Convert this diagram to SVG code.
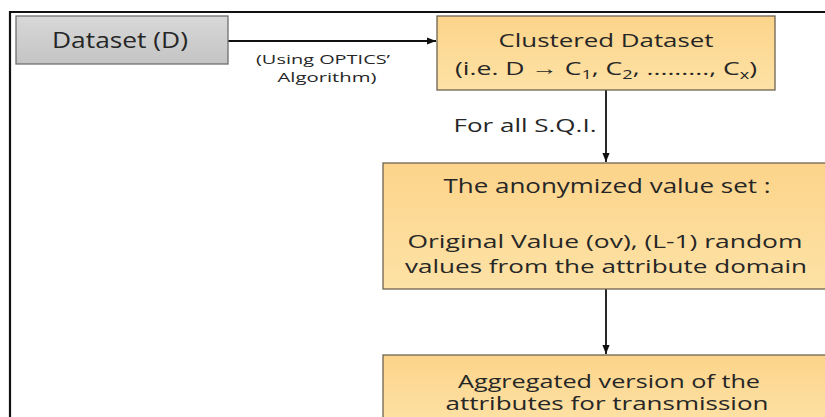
<svg xmlns="http://www.w3.org/2000/svg" width="825" height="417" viewBox="0 0 825 417">
<style>
.t{font-family:"Open Sans","Liberation Sans",sans-serif;fill:#262626;text-anchor:middle}
.orange{fill:url(#og);stroke:#6e6352;stroke-width:1.3}
.gray{fill:url(#gg);stroke:#6f6f6f;stroke-width:1.3}
.conn{stroke:#111;stroke-width:1.8;fill:none}
</style>
<defs>
<linearGradient id="og" x1="0" y1="0" x2="0" y2="1">
<stop offset="0" stop-color="#fcd48a"/>
<stop offset="1" stop-color="#fde2a6"/>
</linearGradient>
<linearGradient id="gg" x1="0" y1="0" x2="0" y2="1">
<stop offset="0" stop-color="#d8d8d8"/>
<stop offset="1" stop-color="#c4c4c4"/>
</linearGradient>
<marker id="ah" viewBox="0 0 10 10" refX="10" refY="5" markerWidth="5" markerHeight="5" orient="auto" markerUnits="strokeWidth">
<path d="M0,1 L10,5 L0,9 z" fill="#111"/>
</marker>
</defs>
<rect x="0" y="0" width="825" height="417" fill="#fff"/>
<path d="M10,420 V12 H830" fill="none" stroke="#111" stroke-width="2.2"/>
<g id="connectors">
<line class="conn" x1="228" y1="41" x2="436" y2="41" marker-end="url(#ah)"/>
<line class="conn" x1="606" y1="90" x2="606" y2="162" marker-end="url(#ah)"/>
<line class="conn" x1="606" y1="289" x2="606" y2="354" marker-end="url(#ah)"/>
<text class="t" x="323" y="64" font-size="13.5" textLength="134" lengthAdjust="spacingAndGlyphs">(Using OPTICS’</text>
<text class="t" x="327" y="82" font-size="13.5" textLength="99" lengthAdjust="spacingAndGlyphs">Algorithm)</text>
<text class="t" x="525" y="132" font-size="18" textLength="143" lengthAdjust="spacingAndGlyphs">For all S.Q.I.</text>
</g>
<g id="dataset">
<rect class="gray" x="16" y="16" width="212" height="48"/>
<text class="t" x="120" y="48" font-size="21" textLength="136" lengthAdjust="spacingAndGlyphs">Dataset (D)</text>
</g>
<g id="clustered">
<rect class="orange" x="437" y="16" width="338" height="74"/>
<text class="t" x="606" y="47" font-size="19" textLength="215" lengthAdjust="spacingAndGlyphs">Clustered Dataset</text>
<text class="t" x="606" y="75" font-size="19" textLength="302" lengthAdjust="spacingAndGlyphs">(i.e. D → C<tspan font-size="13" dy="4">1</tspan><tspan dy="-4">, C</tspan><tspan font-size="13" dy="4">2</tspan><tspan dy="-4">, ........., C</tspan><tspan font-size="13" dy="4">x</tspan><tspan dy="-4">)</tspan></text>
</g>
<g id="anonymized">
<rect class="orange" x="383" y="163" width="450" height="126"/>
<text class="t" x="607" y="193" font-size="20" textLength="327" lengthAdjust="spacingAndGlyphs">The anonymized value set :</text>
<text class="t" x="605" y="248" font-size="19" textLength="395" lengthAdjust="spacingAndGlyphs">Original Value (ov), (L-1) random</text>
<text class="t" x="606" y="273" font-size="19" textLength="402" lengthAdjust="spacingAndGlyphs">values from the attribute domain</text>
</g>
<g id="aggregated">
<rect class="orange" x="383" y="355" width="450" height="70"/>
<text class="t" x="609" y="388" font-size="18" textLength="302" lengthAdjust="spacingAndGlyphs">Aggregated version of the</text>
<text class="t" x="607" y="410" font-size="18" textLength="323" lengthAdjust="spacingAndGlyphs">attributes for transmission</text>
</g>
</svg>
